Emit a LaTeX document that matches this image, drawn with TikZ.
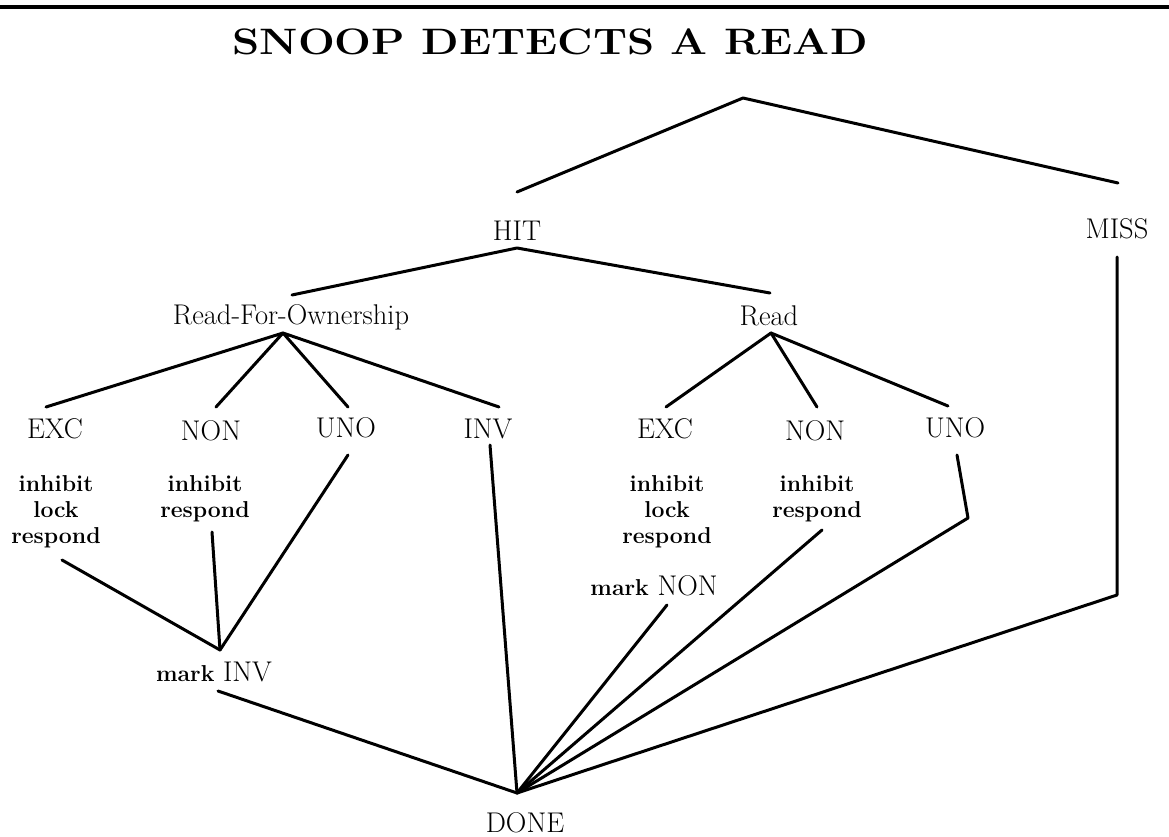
\documentclass[tikz,border=0pt]{standalone}
\usepackage{fontspec}
\newcommand{\lblfont}{\fontsize{28.5}{34}\selectfont}
\newcommand{\actfont}{\fontsize{23}{26}\selectfont\bfseries}
\begin{document}
\begin{tikzpicture}[x=1pt,y=-1pt,
  lbl/.style={anchor=base, inner sep=0pt, font=\lblfont},
  act/.style={anchor=base, inner sep=0pt, align=center, font=\actfont},
  edge/.style={line width=3pt, line cap=round, line join=round},
  rule/.style={line width=4pt}]
\useasboundingbox (0,0) rectangle (1169,837);
% top rule
\coordinate (ruleL) at (0,7);
\coordinate (ruleR) at (1169,7);
\draw[rule] (ruleL) -- (ruleR);
% title
\node[anchor=base, inner sep=0pt] (title) at (550,55)
  {\scalebox{1.09}[0.92]{\fontsize{40}{48}\selectfont\bfseries SNOOP DETECTS A READ}};
% labels
\node[lbl] (hit) at (517,240) {HIT};
\node[lbl] (miss) at (1117,238) {MISS};
\node[lbl] (rfo) at (291,324) {Read-For-Ownership};
\node[lbl] (read) at (769,325) {Read};
\node[lbl] (exc1) at (55,438) {EXC};
\node[lbl] (non1) at (211,440) {NON};
\node[lbl] (uno1) at (346,437) {UNO};
\node[lbl] (inv1) at (488,438) {INV};
\node[lbl] (exc2) at (665,438) {EXC};
\node[lbl] (non2) at (815,440) {NON};
\node[lbl] (uno2) at (955,437) {UNO};
% multi-line nodes: base anchor is the baseline of the last line
\node[act] (actA) at (56,543) {inhibit\\lock\\respond};
\node[act] (actB) at (205,517) {inhibit\\respond};
\node[act] (actC) at (667,543) {inhibit\\lock\\respond};
\node[act] (actD) at (817,517) {inhibit\\respond};
\node[lbl] (markinv) at (214,681) {{\actfont mark} INV};
\node[lbl] (marknon) at (654,595) {{\actfont mark} NON};
\node[lbl] (done) at (525,832) {DONE};
% junction points
\coordinate (root) at (743,98);
\coordinate (rootL) at (517,192);
\coordinate (rootR) at (1118,183);
\coordinate (hitA) at (517,248);
\coordinate (hitL) at (292,295);
\coordinate (hitR) at (770,293);
\coordinate (rfoA) at (283,333);
\coordinate (rfoE) at (46,407);
\coordinate (rfoN) at (216,407);
\coordinate (rfoU) at (348,407);
\coordinate (rfoI) at (499,407);
\coordinate (readA) at (771,333);
\coordinate (readE) at (666,407);
\coordinate (readN) at (817,407);
\coordinate (readU) at (948,406);
\coordinate (aA) at (62,560);
\coordinate (aB) at (212,532);
\coordinate (u1) at (348,455);
\coordinate (jInv) at (220,650);
\coordinate (mInv) at (218,691);
\coordinate (iv) at (490,445);
\coordinate (mNon) at (667,605);
\coordinate (aD) at (822,530);
\coordinate (u2) at (957,455);
\coordinate (u2b) at (968,518);
\coordinate (m1) at (1117,257);
\coordinate (m2) at (1117,595);
\coordinate (dn) at (517,793);
% tree
\draw[edge] (rootL) -- (root) -- (rootR);
\draw[edge] (hitL) -- (hitA) -- (hitR);
\draw[edge] (rfoE) -- (rfoA) -- (rfoN);
\draw[edge] (rfoU) -- (rfoA) -- (rfoI);
\draw[edge] (readE) -- (readA) -- (readN);
\draw[edge] (readA) -- (readU);
% to mark INV
\draw[edge] (aA) -- (jInv);
\draw[edge] (aB) -- (jInv);
\draw[edge] (u1) -- (jInv);
% to DONE
\draw[edge] (mInv) -- (dn);
\draw[edge] (iv) -- (dn);
\draw[edge] (mNon) -- (dn);
\draw[edge] (aD) -- (dn);
\draw[edge] (u2) -- (u2b) -- (dn);
\draw[edge] (m1) -- (m2) -- (dn);
\end{tikzpicture}
\end{document}
